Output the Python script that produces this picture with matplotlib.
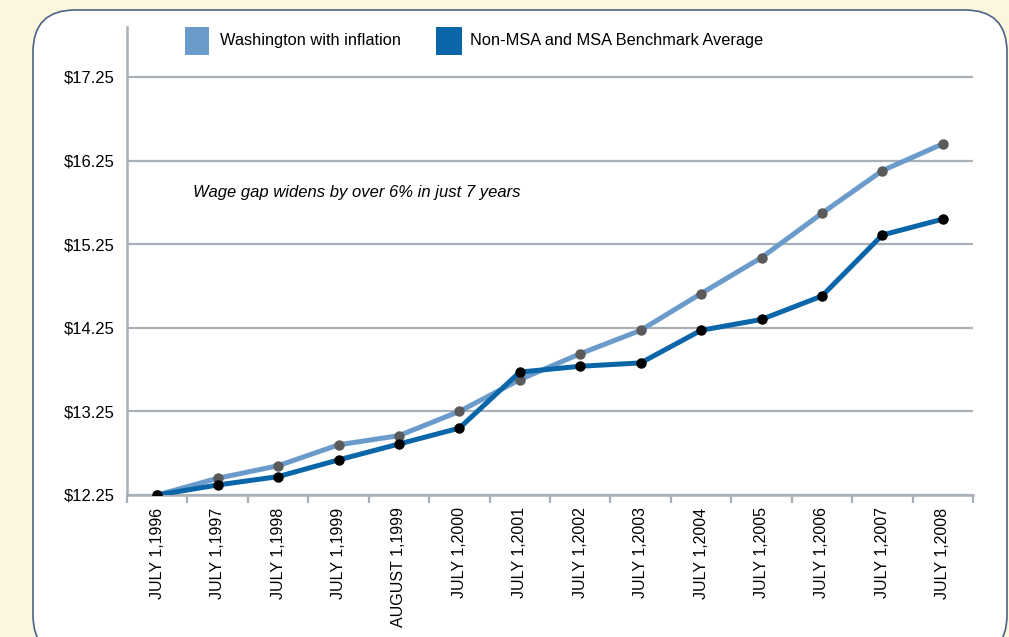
import matplotlib
matplotlib.use("Agg")
import matplotlib.pyplot as plt
from matplotlib.patches import FancyBboxPatch, Rectangle
import numpy as np

plt.rcParams['font.family'] = ['Liberation Sans', 'DejaVu Sans']

categories = ["JULY 1,1996", "JULY 1,1997", "JULY 1,1998", "JULY 1,1999",
              "AUGUST 1,1999", "JULY 1,2000", "JULY 1,2001", "JULY 1,2002",
              "JULY 1,2003", "JULY 1,2004", "JULY 1,2005", "JULY 1,2006",
              "JULY 1,2007", "JULY 1,2008"]
washington = [12.25, 12.45, 12.60, 12.85, 12.96, 13.25, 13.63, 13.94,
              14.22, 14.66, 15.09, 15.62, 16.13, 16.45]
benchmark = [12.25, 12.37, 12.47, 12.67, 12.86, 13.05, 13.72, 13.79,
             13.83, 14.22, 14.35, 14.63, 15.36, 15.55]
series_names = ["Washington with inflation", "Non-MSA and MSA Benchmark Average"]
yticks = [12.25, 13.25, 14.25, 15.25, 16.25, 17.25]
ytick_labels = ["$12.25", "$13.25", "$14.25", "$15.25", "$16.25", "$17.25"]
annotation = "Wage gap widens by over 6% in just 7 years"

light = "#6B9BCB"
dark = "#0A66A8"
grid_c = "#A9B0B7"

W, H = 1009, 637
fig = plt.figure(figsize=(W / 100, H / 100), dpi=100)
fig.patch.set_facecolor("#FDF6DF")

# rounded white panel (in inches -> isotropic corners)
panel = FancyBboxPatch((0.33 + 0.4, -0.2 + 0.4), 10.07 - 0.33 - 0.8, 6.27 + 0.2 - 0.8,
                       boxstyle="round,pad=0.4,rounding_size=0.42",
                       transform=fig.dpi_scale_trans, facecolor="white",
                       edgecolor="#4A6385", linewidth=1.2, zorder=-10)
fig.patches.append(panel)

ax = fig.add_axes([127 / W, 1 - 495 / H, (973 - 127) / W, (495 - 27) / H])
ax.set_facecolor("none")
ax.set_zorder(5)
x = np.arange(len(categories))

ax.plot(x, washington, color=light, lw=3.6, marker="o", ms=6.5,
        mfc="#5A5A5A", mec="#5A5A5A", zorder=3, solid_joinstyle="round")
ax.plot(x, benchmark, color=dark, lw=3.6, marker="o", ms=6.5,
        mfc="black", mec="black", zorder=4, solid_joinstyle="round")

ax.set_xlim(-0.5, len(categories) - 0.5)
ax.set_ylim(12.25, 12.25 + (495 - 27) / 83.6)

ax.set_yticks(yticks)
ax.set_yticklabels(ytick_labels, fontsize=12)
ax.tick_params(axis="y", length=0, pad=9)
ax.yaxis.grid(True, color=grid_c, lw=1.6)
ax.set_axisbelow(True)

ax.set_xticks(np.arange(-0.5, len(categories), 1.0))
ax.set_xticklabels([])
ax.tick_params(axis="x", which="major", length=6, width=1.6, color=grid_c)
ax.set_xticks(x, minor=True)
ax.set_xticklabels(categories, minor=True, rotation=90, fontsize=11.5,
                   va="top", ha="center")
ax.tick_params(axis="x", which="minor", length=0, pad=9)

for s in ["top", "right"]:
    ax.spines[s].set_visible(False)
for s in ["left", "bottom"]:
    ax.spines[s].set_color(grid_c)
    ax.spines[s].set_linewidth(1.8)

ax.text(0.59, 12.25 + (495 - 193) / 83.6, annotation, fontsize=12,
        style="italic", ha="left", va="center")

# legend
for (x0, x1, tx), name, col in zip([(185, 209, 220), (436, 462, 470)], series_names, [light, dark]):
    fig.patches.append(Rectangle((x0 / W, 1 - 55 / H), (x1 - x0) / W, 28 / H,
                                 transform=fig.transFigure, facecolor=col,
                                 edgecolor="none", zorder=2))
    fig.text(tx / W, 1 - 41 / H, name, fontsize=11.8, ha="left", va="center")

fig.savefig("out.png", dpi=100, facecolor=fig.get_facecolor())
